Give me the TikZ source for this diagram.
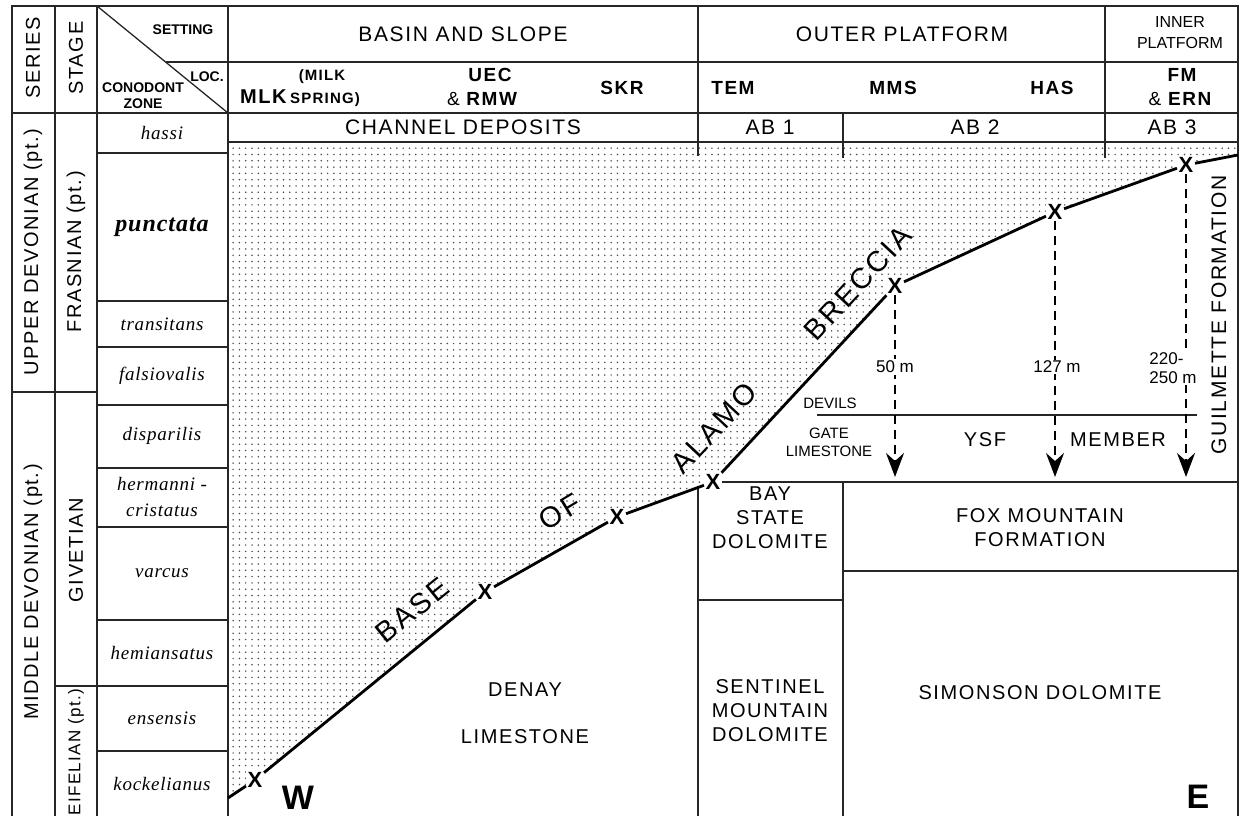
\documentclass[tikz,border=0pt]{standalone}
\usepackage{fontspec}
\setmainfont{Liberation Sans}
\newfontfamily\hv[LetterSpace=8]{Liberation Sans}
\newfontfamily\hvn{Liberation Sans}
\newfontfamily\tmi[LetterSpace=4]{Liberation Serif}
\usetikzlibrary{patterns.meta,arrows.meta}
\newcommand\fsz[2]{\fontsize{#1}{#2}\selectfont}
\tikzset{
  frame/.style={line width=1.3pt, draw=black!85},
  big/.style={font=\hv\fsz{20}{24}, inner sep=0pt, align=center},
  hdr/.style={font=\hv\fsz{21}{24}, inner sep=0pt, align=center},
  bnm/.style={font=\hv\bfseries\fsz{19}{22}, inner sep=0pt, align=center},
  sml/.style={font=\hvn\fsz{15}{18}, inner sep=0pt, align=center},
  cell/.style={font=\hvn\bfseries\fsz{14}{16}, inner sep=0pt, align=center},
  zone/.style={font=\tmi\itshape\fsz{19}{26}, inner sep=0pt, align=center},
  vlab/.style={font=\hv\fsz{20}{24}, inner sep=0pt, rotate=90},
  brec/.style={font=\hv\fsz{29}{30}, inner sep=0pt},
  xmark/.style={font=\hvn\bfseries\fsz{22}{22}, fill=white, inner sep=1.5pt},
  dir/.style={font=\hvn\bfseries\fsz{34}{34}, inner sep=0pt},
  baseline/.style={line width=2.8pt, draw=black},
  darrow/.style={line width=1.3pt, dash pattern=on 9pt off 6pt, -{Stealth[length=24pt,width=18pt,inset=8pt]}},
  mlab/.style={font=\hvn\fsz{17}{20}, fill=white, inner sep=1.5pt}
}
\begin{document}
\begin{tikzpicture}[x=1pt,y=-1pt]
\useasboundingbox (0,0) rectangle (1241,816);
% key points of the base of the Alamo Breccia
\coordinate (p0) at (228,798);
\coordinate (c1) at (255,780);
\coordinate (c2) at (485,592);
\coordinate (c3) at (617,517);
\coordinate (c4) at (713,482);
\coordinate (c5) at (895,286);
\coordinate (c6) at (1055,212);
\coordinate (c7) at (1186,165);
\coordinate (p8) at (1238,155);
\coordinate (tip) at (0,477);
% stipple
\fill[pattern={Dots[distance=6.3pt,radius=0.85pt]}, pattern color=black!70]
  (228,143) -- (1238,143) -- (p8) -- (c7) -- (c6) -- (c5) -- (c4) -- (c3) -- (c2) -- (c1) -- (p0) -- cycle;
% frame
\draw[frame] (12,816) -- (12,6) -- (1238,6) -- (1238,816);
\draw[frame] (55,6) -- (55,816);
\draw[frame] (97,6) -- (97,816);
\draw[frame] (228,6) -- (228,816);
\draw[frame] (97,6) -- (228,113);
\draw[frame] (166,62) -- (1238,62);
\draw[frame] (12,113) -- (1238,113);
\draw[frame] (228,142) -- (1238,142);
\draw[frame] (698,6) -- (698,156);
\draw[frame] (843,113) -- (843,158);
\draw[frame] (1105,6) -- (1105,158);
% zone rows
\foreach \yy in {153,301,347,405,468,527,620,751} \draw[frame] (97,\yy) -- (228,\yy);
\draw[frame] (55,686) -- (228,686);
\draw[frame] (12,392) -- (97,392);
% lower boxes
\draw[frame] (698,486) -- (698,816);
\draw[frame] (843,481) -- (843,816);
\draw[frame] (698,600) -- (843,600);
\draw[frame] (843,571) -- (1238,571);
\draw[frame] (817,415) -- (1197,415);
% X markers
\foreach \i in {1,...,7} \node[xmark] (X\i) at (c\i) {X};
% base line
\draw[baseline] (p0) -- (X1);
\draw[baseline] (X1) -- (X2);
\draw[baseline] (X2) -- (X3);
\draw[baseline] (X3) -- (X4);
\draw[baseline] (X4) -- (X5);
\draw[baseline] (X5) -- (X6);
\draw[baseline] (X6) -- (X7);
\draw[baseline] (X7) -- (p8);
\draw[frame] (X4) -- (X4 -| p8);
% dashed arrows
\draw[darrow] (X5) -- (X5 |- tip);
\draw[darrow] (X6) -- (X6 |- tip);
\draw[darrow] (X7) -- (X7 |- tip);
\node[mlab] (m50) at (895,367) {50 m};
\node[mlab] (m127) at (1057,367) {127 m};
\node[mlab, align=left, font=\hvn\fsz{17}{19}] (m220) at (1173,368) {220-\\250 m};
% header cell
\node[cell] (setting) at (183,30) {SETTING};
\node[cell] (loc) at (207,77) {LOC.};
\node[cell] (czone) at (143,96) {CONODONT\\ZONE};
\node[vlab] (series) at (33,58) {SERIES};
\node[vlab] (stage) at (76,58) {STAGE};
% header rows
\node[hdr] (basin) at (463,34) {BASIN AND SLOPE};
\node[hdr] (outer) at (902,34) {OUTER PLATFORM};
\node[font=\hvn\fsz{16}{21}, inner sep=0pt, align=center] (inner) at (1180,33) {INNER\\PLATFORM};
\node[font=\hv\bfseries\fsz{15}{18}, inner sep=0pt] (milk) at (322,77) {(MILK};
\node[font=\hv\bfseries, inner sep=0pt] (mlk) at (300,98) {{\fsz{20}{22}MLK} {\fsz{15}{18}SPRING)}};
\node[bnm] (uec) at (490,75) {UEC};
\node[bnm] (rmw) at (482,99) {{\mdseries\&} RMW};
\node[bnm] (skr) at (622,88) {SKR};
\node[bnm] (tem) at (733,88) {TEM};
\node[bnm] (mms) at (893,88) {MMS};
\node[bnm] (has) at (1052,88) {HAS};
\node[bnm] (fm) at (1182,75) {FM};
\node[bnm] (ern) at (1180,99) {{\mdseries\&} ERN};
\node[hdr] (chan) at (463,127) {CHANNEL DEPOSITS};
\node[hdr] (ab1) at (770,127) {AB 1};
\node[hdr] (ab2) at (975,127) {AB 2};
\node[hdr] (ab3) at (1172,127) {AB 3};
% series / stage
\node[vlab] (upper) at (33,252) {UPPER DEVONIAN (pt.)};
\node[vlab] (middle) at (33,592) {MIDDLE DEVONIAN (pt.)};
\node[vlab] (frasnian) at (76,252) {FRASNIAN (pt.)};
\node[vlab] (givetian) at (76,550) {GIVETIAN};
\node[vlab, font=\hv\fsz{17}{20}] (eifelian) at (76,752) {EIFELIAN (pt.)};
% zones
\node[zone] (hassi) at (162,133) {hassi};
\node[zone, font=\tmi\bfseries\itshape\fsz{24}{26}] (punct) at (162,227) {punctata};
\node[zone] (trans) at (162,324) {transitans};
\node[zone] (falsi) at (162,376) {falsiovalis};
\node[zone] (dispa) at (162,436) {disparilis};
\node[zone] (herm) at (162,497) {hermanni -\\cristatus};
\node[zone] (varcus) at (162,573) {varcus};
\node[zone] (hemi) at (162,653) {hemiansatus};
\node[zone] (ense) at (162,718) {ensensis};
\node[zone] (kock) at (162,784) {kockelianus};
% base of alamo breccia
\node[brec, rotate=39] (base) at (412,610) {BASE};
\node[brec, rotate=31] (of) at (560,512) {OF};
\node[brec, rotate=47] (alamo) at (714,428) {ALAMO};
\node[brec, rotate=47] (breccia) at (858,283) {BRECCIA};
% units
\node[big] (denay) at (525,690) {DENAY};
\node[big] (lime) at (525,737) {LIMESTONE};
\node[big] (bay) at (770,518) {BAY\\STATE\\DOLOMITE};
\node[big] (sent) at (770,711) {SENTINEL\\MOUNTAIN\\DOLOMITE};
\node[big] (fox) at (1040,528) {FOX MOUNTAIN\\FORMATION};
\node[big] (sim) at (1040,693) {SIMONSON DOLOMITE};
\node[big] (ysf) at (985,440) {YSF};
\node[big] (member) at (1118,440) {MEMBER};
\node[vlab, font=\hv\fsz{21}{24}] (guil) at (1219,315) {GUILMETTE FORMATION};
\node[sml] (devils) at (830,403) {DEVILS};
\node[sml] (gate) at (829,442) {GATE\\LIMESTONE};
\node[dir] (W) at (298,798) {W};
\node[dir] (E) at (1198,797) {E};
\end{tikzpicture}
\end{document}
